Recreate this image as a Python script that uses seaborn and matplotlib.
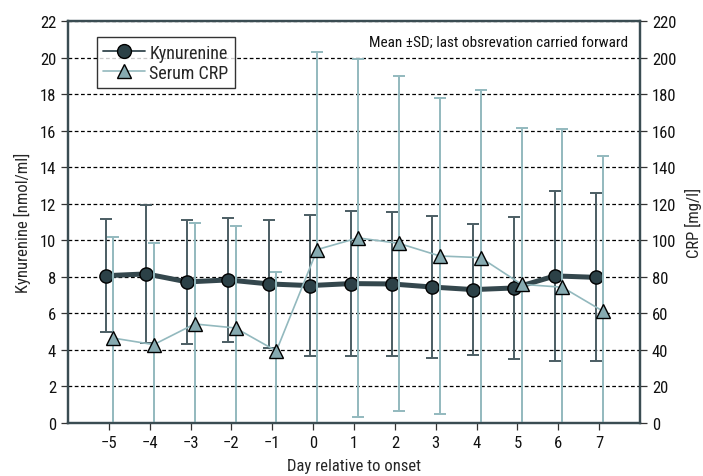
import numpy as np
import pandas as pd
import seaborn as sns
import matplotlib.pyplot as plt

# Data (mean and SD per day)
days = [-5, -4, -3, -2, -1, 0, 1, 2, 3, 4, 5, 6, 7]
kyn_mean = [8.06, 8.16, 7.72, 7.83, 7.61, 7.52, 7.63, 7.61, 7.44, 7.30, 7.39, 8.05, 7.97]
kyn_sd = [3.10, 3.78, 3.37, 3.39, 3.48, 3.85, 3.97, 3.96, 3.89, 3.57, 3.87, 4.67, 4.60]
crp_mean = [46.5, 42.9, 54.2, 52.0, 39.4, 94.9, 101.3, 98.3, 91.4, 90.5, 75.9, 74.3, 61.1]
crp_sd = [55.5, 55.4, 55.0, 55.8, 43.1, 108.3, 98.0, 91.6, 86.6, 91.9, 85.6, 86.8, 85.2]

sns.set_style("white")
# narrow fonts first, fall back to whatever is installed
plt.rcParams["font.family"] = ["Liberation Sans Narrow", "Roboto Condensed", "Lato", "DejaVu Sans"]
plt.rcParams["font.size"] = 11

dark = "#34474d"
dark_err = "#4b5d63"
light = "#93b9be"
light_fill = "#86aab0"

df = pd.DataFrame({
    "day": days,
    "kyn": kyn_mean,
    "kyn_sd": kyn_sd,
    "crp": crp_mean,
    "crp_sd": crp_sd,
})
df["x_kyn"] = df["day"] - 0.08
df["x_crp"] = df["day"] + 0.1

fig = plt.figure(figsize=(7.03, 4.77), dpi=100)
ax = fig.add_axes([0.0967, 0.1111, 0.8137, 0.8428])
ax2 = ax.twinx()

# Kynurenine (left axis)
ax.errorbar(df["x_kyn"], df["kyn"], yerr=df["kyn_sd"], fmt="none",
            ecolor=dark_err, elinewidth=1.4, capsize=4.5, capthick=1.4, zorder=2)
sns.lineplot(data=df, x="x_kyn", y="kyn", ax=ax, color=dark, linewidth=3.6,
             marker="o", markersize=9.5, markerfacecolor="#2c4147",
             markeredgecolor="black", markeredgewidth=1.0, zorder=3,
             label="Kynurenine", legend=False)

# Serum CRP (right axis)
ax2.errorbar(df["x_crp"], df["crp"], yerr=df["crp_sd"], fmt="none",
             ecolor=light, elinewidth=1.4, capsize=4.5, capthick=1.4, zorder=2)
sns.lineplot(data=df, x="x_crp", y="crp", ax=ax2, color=light, linewidth=1.2,
             marker="^", markersize=9.5, markerfacecolor=light_fill,
             markeredgecolor="black", markeredgewidth=1.0, zorder=3,
             label="Serum CRP", legend=False)

ax.set_xlim(-6, 8)
ax.set_ylim(0, 22)
ax2.set_ylim(0, 220)
ax.set_xticks(days)
ax.set_xticklabels(["\u2212%d" % -d if d < 0 else str(d) for d in days])
ax.set_yticks(np.arange(0, 23, 2))
ax2.set_yticks(np.arange(0, 221, 20))

ax.grid(axis="y", color="black", linestyle=(0, (3, 2)), linewidth=0.9)
ax.set_axisbelow(True)

ax.set_xlabel("Day relative to onset", fontsize=12, labelpad=6)
ax.set_ylabel("Kynurenine [nmol/ml]", fontsize=12, labelpad=6)
ax2.set_ylabel("CRP [mg/l]", fontsize=12, labelpad=6)

for a in (ax, ax2):
    for s in a.spines.values():
        s.set_color("#3a4c52")
        s.set_linewidth(1.6)
    a.tick_params(axis="both", direction="out", length=5, width=0.9,
                  color="#333333", labelsize=12, labelcolor="#111111")
ax.tick_params(axis="y", left=True, right=False)
ax.tick_params(axis="x", bottom=True)
ax2.tick_params(axis="y", right=True, left=False)

# Legend with both series
h1, l1 = ax.get_legend_handles_labels()
h2, l2 = ax2.get_legend_handles_labels()
leg = ax.legend(h1 + h2, l1 + l2, loc="upper left", bbox_to_anchor=(0.035, 0.982),
                frameon=True, fancybox=False, edgecolor="black", fontsize=13,
                handlelength=2.3, borderpad=0.35, labelspacing=0.12,
                handletextpad=0.25, markerscale=1.05)
leg.get_frame().set_linewidth(1.0)
leg.get_lines()[0].set_linewidth(1.3)
leg.set_zorder(10)

ax2.text(0.98, 0.965, "Mean \u00b1SD; last obsrevation carried forward",
         transform=ax2.transAxes, ha="right", va="top", fontsize=11,
         color="#111111")

plt.savefig("out.png", dpi=100)
